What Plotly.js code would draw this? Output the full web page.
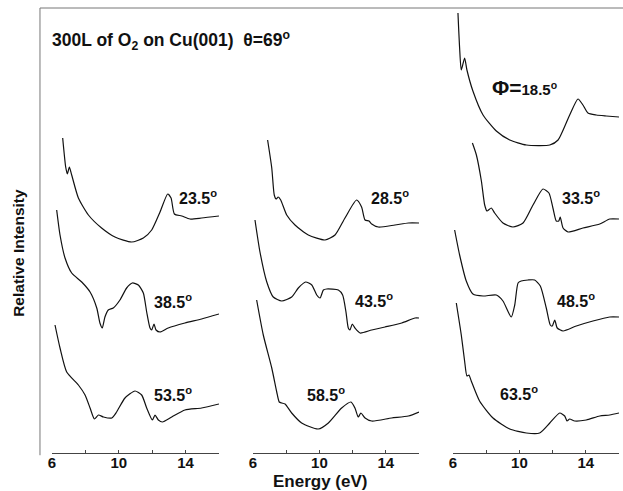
<!DOCTYPE html>
<html>
<head>
<meta charset="utf-8">
<script src="https://cdn.plot.ly/plotly-3.0.1.min.js"></script>
<style>html,body{margin:0;padding:0;background:#fff;}#chart{width:623px;height:491px;}</style>
</head>
<body>
<div id="chart"></div>
<script>
// Energy (eV) and relative intensity (arbitrary units, stacked offsets included)
var phi = ['18.5', '23.5', '28.5', '33.5', '38.5', '43.5', '48.5', '53.5', '58.5', '63.5'];

var e185 = [6.3, 6.4, 6.5, 6.7, 6.84, 7.2, 7.81, 8.61, 9.42, 10.42, 11.83, 12.33, 13.03, 13.53, 13.83, 14.13, 14.63, 15.23, 16.0];
var i185 = [440, 405, 383, 395, 383, 362, 338, 322, 313, 308, 308, 313, 338, 354, 348, 340, 338, 337, 336];

var e235 = [6.64, 6.82, 6.92, 7.04, 7.18, 7.58, 8.18, 8.97, 9.77, 10.77, 11.47, 11.97, 12.47, 12.93, 13.13, 13.33, 13.77, 14.26, 14.96, 16.0];
var i235 = [315, 286, 279, 286, 278, 255, 238, 225, 216, 211, 215, 223, 241, 259, 255, 239, 237, 234, 235, 237];

var e285 = [6.88, 7.13, 7.28, 7.39, 7.52, 7.67, 8.03, 8.53, 9.33, 10.34, 10.94, 11.54, 12.24, 12.54, 12.75, 12.99, 13.15, 13.55, 14.55, 15.36, 16.0];
var i285 = [313, 285, 258, 254, 256, 253, 238, 228, 218, 213, 218, 235, 253, 246, 233, 232, 229, 226, 228, 230, 230];

var e335 = [7.17, 7.41, 7.71, 7.91, 8.05, 8.31, 8.51, 9.01, 9.61, 10.22, 10.82, 11.42, 11.78, 12.02, 12.22, 12.37, 12.46, 12.63, 12.93, 13.83, 14.84, 15.44, 16.0];
var i335 = [310, 298, 272, 248, 242, 245, 240, 230, 226, 230, 248, 264, 260, 245, 232, 232, 236, 225, 221, 225, 229, 234, 234];

var e385 = [6.28, 6.48, 6.78, 7.18, 7.78, 8.28, 8.68, 8.87, 9.01, 9.17, 9.37, 9.67, 10.07, 10.47, 10.81, 11.17, 11.47, 11.67, 11.87, 11.97, 12.11, 12.23, 12.47, 12.96, 13.96, 14.96, 16.0];
var i385 = [243, 218, 195, 180, 171, 161, 145, 130, 125, 136, 143, 145, 153, 165, 170, 168, 160, 141, 125, 123, 129, 123, 121, 125, 130, 134, 139];

var e435 = [6.12, 6.42, 6.83, 7.22, 7.73, 8.33, 8.73, 9.17, 9.54, 9.84, 10.04, 10.24, 10.44, 11.14, 11.4, 11.6, 11.74, 11.84, 11.98, 12.14, 12.45, 13.15, 13.95, 14.96, 15.76, 16.0];
var i435 = [233, 201, 171, 156, 152, 156, 165, 171, 168, 158, 155, 163, 164, 163, 158, 141, 125, 123, 129, 125, 120, 123, 126, 130, 135, 135];

var e485 = [6.1, 6.4, 6.8, 7.2, 7.81, 8.61, 9.01, 9.51, 9.72, 9.92, 10.11, 10.52, 10.92, 11.26, 11.62, 11.86, 11.98, 12.13, 12.28, 12.63, 13.43, 14.43, 15.44, 16.0];
var i485 = [223, 198, 172, 159, 157, 158, 152, 136, 148, 170, 172, 173, 173, 167, 145, 128, 127, 133, 125, 122, 127, 132, 136, 136];

var e535 = [6.18, 6.48, 6.88, 7.58, 7.98, 8.28, 8.54, 8.78, 9.08, 9.58, 9.87, 10.37, 10.97, 11.37, 11.67, 12.01, 12.17, 12.37, 12.61, 13.17, 13.96, 14.96, 16.0];
var i535 = [128, 105, 81, 68, 58, 45, 34, 38, 36, 35, 41, 55, 62, 58, 45, 33, 38, 33, 31, 36, 43, 45, 49];

var e585 = [6.22, 6.62, 7.13, 7.43, 7.58, 7.73, 7.93, 8.33, 8.93, 9.93, 10.54, 11.34, 11.9, 12.14, 12.34, 12.5, 12.75, 13.15, 14.35, 15.36, 16.0];
var i585 = [153, 118, 85, 61, 51, 50, 49, 40, 30, 24, 30, 45, 51, 45, 36, 40, 35, 32, 35, 37, 41];

var e635 = [6.2, 6.5, 6.7, 6.84, 6.96, 7.1, 7.6, 8.41, 9.42, 10.42, 11.22, 11.83, 12.43, 12.73, 12.87, 13.03, 13.33, 14.03, 14.84, 15.44, 16.0];
var i635 = [150, 118, 92, 77, 78, 72, 52, 35, 24, 20, 20, 30, 40, 37, 32, 34, 32, 33, 37, 38, 40];

var tickVals = [6, 8, 10, 12, 14, 16];
var tickText = ['6', '', '10', '', '14', ''];

// panel 1: 23.5/38.5/53.5, panel 2: 28.5/43.5/58.5, panel 3: 18.5/33.5/48.5/63.5
var curves = [
  {e: e235, i: i235, ax: 'x'},
  {e: e385, i: i385, ax: 'x'},
  {e: e535, i: i535, ax: 'x'},
  {e: e285, i: i285, ax: 'x2'},
  {e: e435, i: i435, ax: 'x2'},
  {e: e585, i: i585, ax: 'x2'},
  {e: e185, i: i185, ax: 'x3'},
  {e: e335, i: i335, ax: 'x3'},
  {e: e485, i: i485, ax: 'x3'},
  {e: e635, i: i635, ax: 'x3'}
];

var traces = curves.map(function (c) {
  return {
    x: c.e, y: c.i, xaxis: c.ax, yaxis: 'y',
    type: 'scatter', mode: 'lines',
    line: {color: '#111', width: 1.2, shape: 'spline', smoothing: 0.6},
    hoverinfo: 'skip', showlegend: false
  };
});

var FONT = 'Liberation Sans, Arial, sans-serif';
function xa(dom) {
  return {
    domain: dom, range: [6, 16], anchor: 'y',
    showline: true, linecolor: '#444', linewidth: 1,
    ticks: 'inside', ticklen: 3, tickcolor: '#444', tickwidth: 1,
    tickvals: tickVals, ticktext: tickText,
    ticklabelstandoff: -4,
    tickfont: {family: FONT, size: 15, color: '#111', weight: 'bold'},
    showgrid: false, zeroline: false, fixedrange: true
  };
}

function lab(txt, ax, x, y) {
  return {text: txt, xref: ax, yref: 'y', x: x, y: y, xanchor: 'left', yanchor: 'middle',
    showarrow: false, font: {family: FONT, size: 16, color: '#111', weight: 'bold'}};
}

var phiLabel = lab('<span style="font-size:21px">Φ=</span>' + phi[0] + '<sup>o</sup>', 'x3', 8.2, 366);
phiLabel.font.size = 15;

var annotations = [
  lab(phi[1] + '<sup>o</sup>', 'x', 13.49, 256),
  lab(phi[4] + '<sup>o</sup>', 'x', 11.99, 152),
  lab(phi[7] + '<sup>o</sup>', 'x', 11.99, 59),
  lab(phi[2] + '<sup>o</sup>', 'x2', 12.99, 256),
  lab(phi[5] + '<sup>o</sup>', 'x2', 12.02, 153),
  lab(phi[8] + '<sup>o</sup>', 'x2', 9.13, 59),
  phiLabel,
  lab(phi[3] + '<sup>o</sup>', 'x3', 12.45, 256),
  lab(phi[6] + '<sup>o</sup>', 'x3', 12.14, 153),
  lab(phi[9] + '<sup>o</sup>', 'x3', 8.71, 60),
  {text: '300L of O<sub>2</sub> on Cu(001)  θ=69<sup>o</sup>', xref: 'paper', yref: 'paper',
    x: -0.004, y: 0.926, xanchor: 'left', yanchor: 'middle', showarrow: false,
    font: {family: FONT, size: 17.5, color: '#111', weight: 'bold'}},
  {text: 'Relative Intensity', xref: 'paper', yref: 'paper', x: -0.058, y: 0.45,
    xanchor: 'center', yanchor: 'middle', textangle: -90, showarrow: false,
    font: {family: FONT, size: 15.5, color: '#111', weight: 'bold'}},
  {text: 'Energy (eV)', xref: 'paper', yref: 'paper', x: 0.473, y: -0.064,
    xanchor: 'center', yanchor: 'middle', showarrow: false,
    font: {family: FONT, size: 17, color: '#111', weight: 'bold'}}
];

var layout = {
  width: 623, height: 491,
  margin: {l: 52, r: 4, t: 8, b: 38, pad: 0},
  paper_bgcolor: '#fff', plot_bgcolor: '#fff',
  showlegend: false,
  xaxis: xa([0, 0.2945]),
  xaxis2: xa([0.3545, 0.6473]),
  xaxis3: xa([0.7072, 1]),
  yaxis: {domain: [0, 1], range: [0, 445], visible: false, fixedrange: true},
  shapes: [
    {type: 'line', xref: 'paper', yref: 'paper', x0: -0.0212, x1: 1.01, y0: 1, y1: 1,
      line: {color: '#777', width: 1}},
    {type: 'line', xref: 'paper', yref: 'paper', x0: -0.0212, x1: -0.0212, y0: -0.005, y1: 1,
      line: {color: '#777', width: 1}}
  ],
  annotations: annotations
};

Plotly.newPlot('chart', traces, layout, {staticPlot: true, displayModeBar: false});
</script>
</body>
</html>
